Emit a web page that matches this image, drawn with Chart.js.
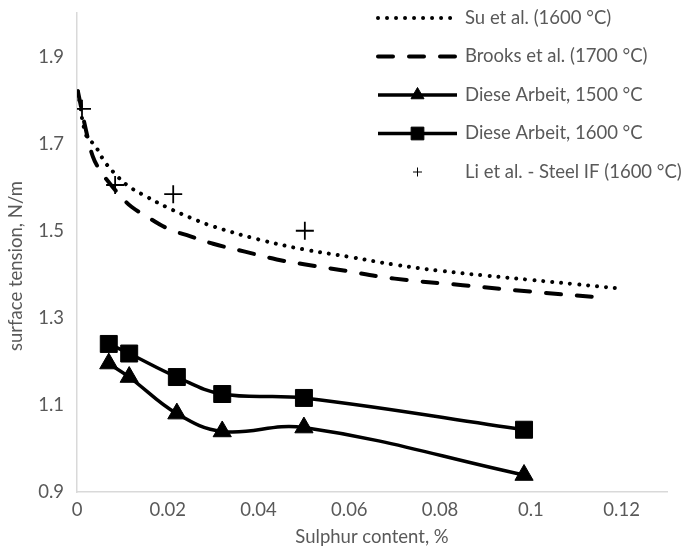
<!DOCTYPE html>
<html>
<head>
<meta charset="utf-8">
<script src="https://cdn.jsdelivr.net/npm/chart.js@4.4.1/dist/chart.umd.min.js"></script>
<style>
    html, body { margin: 0; padding: 0; background: #fff; }
    #wrap { width: 683px; height: 552px; }
</style>
</head>
<body>
<div id="wrap"><canvas id="chart" width="683" height="552"></canvas></div>
<script>
// Axis ticks
const xTicks = [0, 0.02, 0.04, 0.06, 0.08, 0.1, 0.12];
const xTickLabels = ['0', '0.02', '0.04', '0.06', '0.08', '0.1', '0.12'];
const yTicks = [0.9, 1.1, 1.3, 1.5, 1.7, 1.9];
const yTickLabels = ['0.9', '1.1', '1.3', '1.5', '1.7', '1.9'];

// Su et al. (1600 °C)
const suX = [0.0002, 0.002, 0.004, 0.006, 0.008, 0.011, 0.015, 0.02, 0.025, 0.03, 0.04, 0.05, 0.06, 0.07, 0.08, 0.09, 0.1, 0.11, 0.119];
const suY = [1.82, 1.72, 1.695, 1.66, 1.635, 1.605, 1.58, 1.553, 1.53, 1.51, 1.48, 1.457, 1.44, 1.422, 1.408, 1.397, 1.387, 1.377, 1.368];

// Brooks et al. (1700 °C)
const brooksX = [0.0002, 0.002, 0.0035, 0.005, 0.0075, 0.01, 0.012, 0.015, 0.02, 0.025, 0.03, 0.037, 0.044, 0.05, 0.058, 0.07, 0.085, 0.1, 0.114];
const brooksY = [1.82, 1.73, 1.67, 1.64, 1.605, 1.575, 1.555, 1.535, 1.505, 1.487, 1.47, 1.452, 1.434, 1.423, 1.41, 1.39, 1.375, 1.36, 1.348];

// Diese Arbeit
const daX = [0.007, 0.0115, 0.022, 0.032, 0.05, 0.0985];
const da1500Y = [1.195, 1.164, 1.08, 1.039, 1.048, 0.939];
const da1600Y = [1.24, 1.218, 1.164, 1.125, 1.116, 1.043];

// Li et al. - Steel IF (1600 °C)
const liX = [0.0011, 0.0084, 0.0212, 0.0502];
const liY = [1.78, 1.605, 1.584, 1.50];

const seriesNames = ['Su et al. (1600 °C)', 'Brooks et al. (1700 °C)', 'Diese Arbeit, 1500 °C', 'Diese Arbeit, 1600 °C', 'Li et al. - Steel IF (1600 °C)'];

const textColor = '#595959';
const axisColor = '#d9d9d9';
const fontFamily = 'Lato, "Open Sans", sans-serif';
const fontSize = 18.5;

function toPoints(xs, ys) {
    return xs.map((x, i) => ({ x: x, y: ys[i] }));
}

// no extra room for half tick labels, the plot box is fixed
function fixScale(s) {
    s.paddingTop = 0;
    s.paddingBottom = 0;
    s.paddingLeft = 0;
    s.paddingRight = 0;
}

// Legend and axis titles drawn by hand so they sit where the original has them
const overlayPlugin = {
    id: 'overlay',
    afterDraw(chart) {
        const ctx = chart.ctx;
        const area = chart.chartArea;
        ctx.save();
        ctx.fillStyle = textColor;
        ctx.font = fontSize + 'px ' + fontFamily;

        // axis titles
        ctx.textAlign = 'center';
        ctx.textBaseline = 'middle';
        ctx.fillText('Sulphur content, %', (area.left + area.right) / 2, 537);
        ctx.save();
        ctx.translate(16, 266);
        ctx.rotate(-Math.PI / 2);
        ctx.fillText('surface tension, N/m', 0, 0);
        ctx.restore();

        // legend
        const x0 = 378, x1 = 457, textX = 465;
        chart.data.datasets.forEach((ds, i) => {
            const y = 18 + i * 38.5;
            if (ds.showLine) {
                ctx.save();
                ctx.strokeStyle = ds.borderColor;
                ctx.lineWidth = ds.borderWidth;
                ctx.lineCap = ds.borderCapStyle || 'butt';
                ctx.setLineDash(ds.borderDash || []);
                ctx.beginPath();
                ctx.moveTo(x0, y);
                ctx.lineTo(x1, y);
                ctx.stroke();
                ctx.restore();
            }
            if (ds.pointRadius > 0) {
                ctx.save();
                ctx.fillStyle = ds.pointBackgroundColor;
                ctx.strokeStyle = ds.pointBorderColor;
                Chart.helpers.drawPoint(ctx, {
                    pointStyle: ds.pointStyle,
                    radius: ds.legendRadius,
                    rotation: 0,
                    borderWidth: ds.pointBorderWidth
                }, (x0 + x1) / 2, y);
                ctx.restore();
            }
            ctx.fillStyle = textColor;
            ctx.textAlign = 'left';
            ctx.textBaseline = 'middle';
            ctx.fillText(ds.label, textX, y);
        });
        ctx.restore();
    }
};

const ctx = document.getElementById('chart').getContext('2d');
new Chart(ctx, {
    type: 'scatter',
    data: {
        datasets: [
            {
                label: seriesNames[0],
                data: toPoints(suX, suY),
                showLine: true,
                borderColor: '#000',
                borderWidth: 4,
                borderDash: [0.01, 9],
                borderCapStyle: 'round',
                tension: 0.4,
                pointRadius: 0
            },
            {
                label: seriesNames[1],
                data: toPoints(brooksX, brooksY),
                showLine: true,
                borderColor: '#000',
                borderWidth: 4,
                borderDash: [15, 16],
                borderCapStyle: 'round',
                tension: 0.4,
                pointRadius: 0
            },
            {
                label: seriesNames[2],
                data: toPoints(daX, da1500Y),
                showLine: true,
                borderColor: '#000',
                borderWidth: 3.5,
                tension: 0.4,
                pointStyle: 'triangle',
                pointRadius: 10.5,
                legendRadius: 7.5,
                pointBackgroundColor: '#000',
                pointBorderColor: '#000',
                pointBorderWidth: 1
            },
            {
                label: seriesNames[3],
                data: toPoints(daX, da1600Y),
                showLine: true,
                borderColor: '#000',
                borderWidth: 3.5,
                tension: 0.4,
                pointStyle: 'rect',
                pointRadius: 12,
                legendRadius: 9,
                pointBackgroundColor: '#000',
                pointBorderColor: '#000',
                pointBorderWidth: 1
            },
            {
                label: seriesNames[4],
                data: toPoints(liX, liY),
                showLine: false,
                pointStyle: 'cross',
                pointRadius: 9,
                legendRadius: 4.5,
                pointBackgroundColor: '#000',
                pointBorderColor: '#000',
                pointBorderWidth: 1.8
            }
        ]
    },
    options: {
        responsive: false,
        animation: false,
        devicePixelRatio: 1,
        layout: { padding: { left: 0, top: 8, right: 16, bottom: 0 } },
        plugins: {
            legend: { display: false },
            tooltip: { enabled: false }
        },
        scales: {
            x: {
                type: 'linear',
                min: 0,
                max: 0.13,
                grid: { display: false, drawTicks: false },
                border: { display: true, color: axisColor, width: 1.5 },
                afterBuildTicks: s => { s.ticks = xTicks.map(v => ({ value: v })); },
                afterFit: s => { s.height = 60; fixScale(s); },
                ticks: {
                    color: textColor,
                    font: { family: fontFamily, size: fontSize },
                    padding: 7,
                    maxRotation: 0,
                    callback: (v, i) => xTickLabels[i]
                }
            },
            y: {
                type: 'linear',
                min: 0.9,
                max: 2.0,
                grid: { display: false, drawTicks: false },
                border: { display: true, color: axisColor, width: 1.5 },
                afterBuildTicks: s => { s.ticks = yTicks.map(v => ({ value: v })); },
                afterFit: s => { s.width = 77; fixScale(s); },
                ticks: {
                    color: textColor,
                    font: { family: fontFamily, size: fontSize },
                    padding: 13,
                    callback: (v, i) => yTickLabels[i]
                }
            }
        }
    },
    plugins: [overlayPlugin]
});
</script>
</body>
</html>
